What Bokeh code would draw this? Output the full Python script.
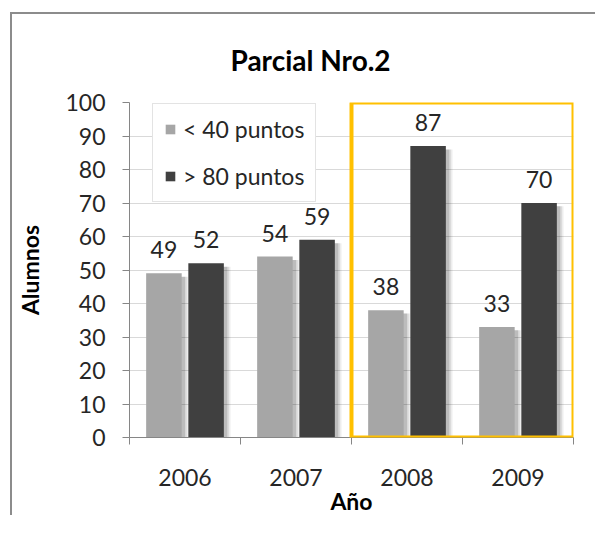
from bokeh.plotting import figure
from bokeh.models import (Range1d, LinearAxis, FixedTicker,
                          ColumnDataSource, Legend, LegendItem, BoxAnnotation)
from bokeh.transform import dodge
from bokeh.core.properties import value
from bokeh.embed import file_html
from bokeh.resources import INLINE

# ---- data ----
years = ["2006", "2007", "2008", "2009"]
under40 = [49, 54, 38, 33]
over80 = [52, 59, 87, 70]
series_names = ["< 40 puntos", "> 80 puntos"]
y_ticks = [0, 10, 20, 30, 40, 50, 60, 70, 80, 90, 100]
highlight = ["2008", "2009"]
title_text = "Parcial Nro.2"
x_title = "Año"
y_title = "Alumnos"

FONT = "Lato"
FS = "23px"
LIGHT = "#a6a6a6"
DARK = "#404040"
AXIS = "#868686"
TXT = "#262626"

n = len(years)
centers = [i + 0.5 for i in range(n)]
bounds = list(range(n + 1))

src = ColumnDataSource(dict(
    xc=centers, under=under40, over=over80,
    under_lbl=[str(v) for v in under40], over_lbl=[str(v) for v in over80],
    under_sh=[v - 1 for v in under40], over_sh=[v - 1 for v in over80],
))

OX, OY = 12, 14  # canvas origin inside the chart border
p = figure(x_range=Range1d(0, n), y_range=Range1d(0, 100),
           width=597 - OX, height=517 - OY, output_backend="svg", toolbar_location=None,
           x_axis_location=None, y_axis_location="left",
           min_border_left=129 - OX, min_border_right=24, min_border_top=101 - OY, min_border_bottom=78,
           title=title_text)
p.styles = {"margin-left": "10px", "margin-top": "12px",
            "border-left": "2px solid #8c8c8c", "border-top": "2px solid #8c8c8c"}
p.outline_line_color = None
p.background_fill_color = "white"
p.border_fill_color = "white"

p.title.text_font = FONT
p.title.text_font_size = "28px"
p.title.text_font_style = "bold"
p.title.text_color = "#000000"
p.title.align = "left"
p.title.offset = 101
p.title.standoff = 52

# y axis
ya = p.yaxis[0]
ya.ticker = FixedTicker(ticks=y_ticks)
ya.axis_line_color = AXIS
ya.major_tick_line_color = AXIS
ya.major_tick_out = 7
ya.major_tick_in = 0
ya.minor_tick_line_color = None
ya.major_label_text_font = FONT
ya.major_label_text_font_size = FS
ya.major_label_text_color = TXT
ya.major_label_standoff = 17
ya.axis_label = y_title
ya.axis_label_text_font = FONT
ya.axis_label_text_font_size = FS
ya.axis_label_text_font_style = "bold"
ya.axis_label_text_color = "#000000"
ya.axis_label_standoff = 18

p.xgrid.grid_line_color = None
p.ygrid.grid_line_color = "#d9d9d9"
p.ygrid.ticker = FixedTicker(ticks=y_ticks)

# x axis: labels at category centres, minor ticks at category boundaries
xa = LinearAxis(ticker=FixedTicker(ticks=centers, minor_ticks=bounds),
                major_label_overrides={c: y for c, y in zip(centers, years)},
                axis_line_color=AXIS, major_tick_line_color=None, major_tick_out=0, major_tick_in=0,
                minor_tick_line_color=AXIS, minor_tick_out=7, minor_tick_in=0,
                major_label_text_font=FONT, major_label_text_font_size=FS,
                major_label_text_color=TXT, major_label_standoff=24,
                axis_label=x_title, axis_label_text_font=FONT,
                axis_label_text_font_size=FS, axis_label_text_font_style="bold",
                axis_label_text_color="#000000", axis_label_standoff=-2)
p.add_layout(xa, "below")

W = 0.32
OFF = 0.19
# shadows
for k, a in [(0.06, 0.07), (0.045, 0.09), (0.03, 0.12)]:
    p.vbar(x=dodge("xc", -OFF + k), top="under_sh", width=W, source=src,
           fill_color="#000000", fill_alpha=a, line_color=None)
    p.vbar(x=dodge("xc", OFF + k), top="over_sh", width=W, source=src,
           fill_color="#000000", fill_alpha=a, line_color=None)

r1 = p.vbar(x=dodge("xc", -OFF), top="under", width=W, source=src,
            fill_color=LIGHT, line_color=None)
r2 = p.vbar(x=dodge("xc", OFF), top="over", width=W, source=src,
            fill_color=DARK, line_color=None)

for xo, col in [(-OFF, "under"), (OFF, "over")]:
    p.text(x=dodge("xc", xo), y=col, text=col + "_lbl", source=src,
           text_align="center", text_baseline="bottom", y_offset=-15,
           text_font=value(FONT), text_font_size=FS, text_color=TXT)

# highlight box
hl = BoxAnnotation(left=years.index(highlight[0]), right=years.index(highlight[-1]) + 1,
                   bottom=y_ticks[0], top=y_ticks[-1],
                   fill_alpha=0, fill_color=None, line_color="#FFC000", line_alpha=1, line_width=4)
p.add_layout(hl)

legend = Legend(items=[LegendItem(label=series_names[0], renderers=[r1]),
                       LegendItem(label=series_names[1], renderers=[r2])],
                location=(23, 235))
legend.border_line_color = "#c8c8c8"
legend.background_fill_color = "white"
legend.background_fill_alpha = 1
legend.label_text_font = FONT
legend.label_text_font_size = FS
legend.label_text_color = TXT
legend.glyph_width = 12
legend.glyph_height = 12
legend.padding = 11
legend.spacing = 19
legend.label_standoff = 7
legend.margin = 0
p.add_layout(legend)

open("out.html", "w").write(file_html(p, INLINE))
